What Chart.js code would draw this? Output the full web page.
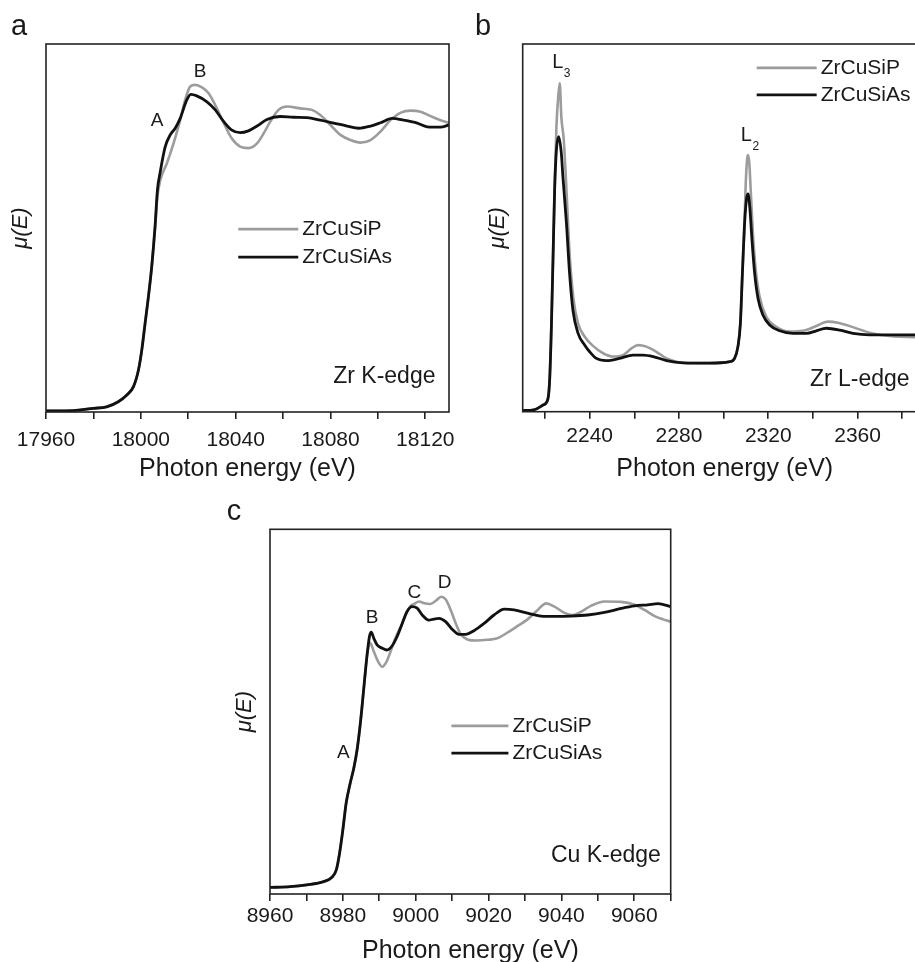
<!DOCTYPE html>
<html>
<head>
<meta charset="utf-8">
<title>XANES spectra ZrCuSiP / ZrCuSiAs</title>
<script src="https://cdn.jsdelivr.net/npm/chart.js@4.4.0/dist/chart.umd.min.js"></script>
<style>
  html, body { margin: 0; padding: 0; background: #fff; overflow: hidden; width: 915px; height: 962px; }
  canvas { position: absolute; }
  #chartA { left: 0; top: 0; }
  #chartB { left: 460px; top: 0; }
  #chartC { left: 220px; top: 490px; }
</style>
</head>
<body>
<canvas id="chartA" width="466" height="484"></canvas>
<canvas id="chartB" width="480" height="484"></canvas>
<canvas id="chartC" width="470" height="478"></canvas>
<script>
// Data (normalised mu(E), 0 = frame bottom, 1 = frame top)

// (a) Zr K-edge
const zrKTickLabels = [17960, 18000, 18040, 18080, 18120]
const zrKEnergyP = [17960, 17971.5, 17980, 17985.6, 17990.5, 17994.1, 17996.9, 17999, 18000.4, 18001.8, 18003.2, 18004.6, 18006, 18007, 18008.2, 18011, 18013.8, 18016.6, 18018.7, 18020.8, 18022.9, 18025.8, 18028.6, 18031.4, 18035, 18038.4, 18041.9, 18045.4, 18049, 18051.8, 18054.6, 18058.1, 18061.7, 18067.3, 18072.2, 18075.7, 18080, 18084.2, 18088.4, 18092.6, 18096.9, 18101.1, 18105.3, 18109.5, 18113.8, 18118, 18122.2, 18126.4, 18130]
const zrKMuP = [0.003, 0.004, 0.010, 0.014, 0.028, 0.046, 0.069, 0.114, 0.168, 0.241, 0.313, 0.395, 0.500, 0.585, 0.630, 0.676, 0.730, 0.793, 0.848, 0.884, 0.889, 0.882, 0.866, 0.834, 0.785, 0.743, 0.721, 0.717, 0.730, 0.757, 0.789, 0.821, 0.830, 0.825, 0.821, 0.807, 0.780, 0.753, 0.739, 0.732, 0.739, 0.762, 0.793, 0.813, 0.819, 0.816, 0.804, 0.793, 0.786]
const zrKEnergyAs = [17960, 17971.5, 17980, 17985.6, 17990.5, 17994.1, 17996.9, 17999, 18000.4, 18001.8, 18003.2, 18004.6, 18006, 18007, 18008.2, 18010.3, 18012.4, 18014.5, 18016.6, 18019.4, 18021.1, 18023.6, 18027.9, 18031.4, 18035, 18038.4, 18041.9, 18045.4, 18049, 18053.2, 18058.8, 18064.5, 18070.1, 18075.7, 18081.4, 18087, 18091.9, 18096.9, 18101.1, 18106, 18110.9, 18116.6, 18120.8, 18126.4, 18130]
const zrKMuAs = [0.003, 0.004, 0.010, 0.014, 0.028, 0.046, 0.069, 0.114, 0.168, 0.241, 0.313, 0.395, 0.504, 0.603, 0.653, 0.721, 0.753, 0.771, 0.798, 0.848, 0.863, 0.859, 0.843, 0.821, 0.789, 0.766, 0.759, 0.764, 0.777, 0.795, 0.803, 0.801, 0.800, 0.793, 0.785, 0.777, 0.771, 0.777, 0.786, 0.798, 0.793, 0.785, 0.775, 0.774, 0.780]

// (b) Zr L-edge
const zrLTickLabels = [2240, 2280, 2320, 2360]
const zrLEnergyP = [2210, 2215, 2219.1, 2221.3, 2222.1, 2222.8, 2223.6, 2224.3, 2225.1, 2226.1, 2226.6, 2227.3, 2228.4, 2229.6, 2231, 2232.8, 2234.8, 2237.8, 2241.5, 2246, 2250.4, 2254.9, 2258.7, 2261.6, 2265.4, 2269.9, 2274.4, 2278.8, 2281.8, 2293.7, 2302.7, 2304.9, 2306.4, 2307.5, 2308.4, 2309.3, 2309.9, 2310.5, 2310.9, 2311.5, 2312.2, 2313.1, 2314.4, 2316.1, 2319.1, 2323.6, 2329.6, 2335.5, 2341.5, 2346.7, 2351.2, 2357.9, 2365.4, 2374.4, 2391]
const zrLMuP = [0.003, 0.005, 0.018, 0.035, 0.090, 0.220, 0.422, 0.603, 0.775, 0.870, 0.893, 0.802, 0.739, 0.603, 0.431, 0.304, 0.240, 0.204, 0.179, 0.159, 0.150, 0.154, 0.172, 0.181, 0.177, 0.163, 0.145, 0.136, 0.133, 0.132, 0.136, 0.145, 0.177, 0.240, 0.376, 0.503, 0.621, 0.685, 0.698, 0.676, 0.594, 0.485, 0.385, 0.313, 0.258, 0.231, 0.218, 0.220, 0.233, 0.245, 0.242, 0.230, 0.215, 0.206, 0.202]
const zrLEnergyAs = [2210, 2215, 2219.1, 2221.3, 2222.1, 2222.8, 2223.6, 2224.3, 2225.1, 2226.1, 2227.3, 2228.0, 2229.6, 2231.0, 2232.5, 2234.8, 2237.8, 2240, 2243, 2247.5, 2253.4, 2259.4, 2263.9, 2268.4, 2274.4, 2281.8, 2293.7, 2302.7, 2304.9, 2306.4, 2307.5, 2308.4, 2309.3, 2310.2, 2310.9, 2311.7, 2312.7, 2313.9, 2315.4, 2317.6, 2320.6, 2325.1, 2331, 2337.1, 2341.5, 2346, 2352, 2357.9, 2365.4, 2391]
const zrLMuAs = [0.003, 0.005, 0.018, 0.035, 0.090, 0.220, 0.422, 0.603, 0.712, 0.748, 0.703, 0.640, 0.512, 0.376, 0.276, 0.213, 0.181, 0.163, 0.145, 0.139, 0.145, 0.154, 0.154, 0.150, 0.139, 0.133, 0.132, 0.136, 0.145, 0.177, 0.240, 0.376, 0.503, 0.576, 0.592, 0.558, 0.467, 0.376, 0.308, 0.263, 0.236, 0.220, 0.213, 0.213, 0.220, 0.227, 0.222, 0.213, 0.209, 0.209]

// (c) Cu K-edge
const cuKTickLabels = [8960, 8980, 9000, 9020, 9040, 9060]
const cuKEnergyP = [8960, 8965.5, 8970.1, 8974.7, 8977, 8978.2, 8979.1, 8980, 8980.9, 8982, 8983, 8983.9, 8984.8, 8985.7, 8986.6, 8987.1, 8987.5, 8988.5, 8989.7, 8990.8, 8992, 8993.1, 8994.4, 8996.3, 8997.6, 8998.6, 8999.5, 9000.9, 9002.4, 9003.9, 9005.5, 9007, 9008.2, 9009.6, 9011, 9012.3, 9014.2, 9016.5, 9019.7, 9022.4, 9025.2, 9028, 9030.7, 9033.5, 9035.8, 9038.1, 9040.8, 9043.1, 9045.4, 9048.1, 9051.8, 9056.4, 9060.1, 9062.8, 9065.6, 9067.9, 9070]
const cuKMuP = [0.018, 0.020, 0.025, 0.034, 0.046, 0.066, 0.112, 0.176, 0.249, 0.303, 0.345, 0.395, 0.468, 0.559, 0.651, 0.680, 0.688, 0.665, 0.637, 0.623, 0.637, 0.665, 0.701, 0.742, 0.774, 0.790, 0.795, 0.802, 0.797, 0.795, 0.804, 0.815, 0.808, 0.779, 0.742, 0.713, 0.698, 0.695, 0.697, 0.701, 0.717, 0.735, 0.753, 0.779, 0.797, 0.788, 0.771, 0.765, 0.774, 0.790, 0.802, 0.801, 0.793, 0.779, 0.762, 0.753, 0.747]
const cuKEnergyAs = [8960, 8965.5, 8970.1, 8974.7, 8977, 8978.2, 8979.1, 8980, 8980.9, 8982, 8983, 8983.9, 8984.8, 8985.7, 8986.6, 8987.3, 8987.8, 8988.5, 8989.4, 8990.8, 8992.1, 8993.5, 8994.9, 8996.3, 8997.6, 8999, 9000.4, 9001.8, 9003.6, 9005, 9006.4, 9008.2, 9010, 9011.9, 9013.7, 9016, 9018.8, 9021.5, 9024.3, 9027, 9030.7, 9034.4, 9038.1, 9042.6, 9047.2, 9051.8, 9056.4, 9060.1, 9063.7, 9066.5, 9070]
const cuKMuAs = [0.018, 0.020, 0.025, 0.034, 0.046, 0.066, 0.112, 0.176, 0.249, 0.303, 0.345, 0.395, 0.468, 0.559, 0.651, 0.706, 0.718, 0.701, 0.683, 0.674, 0.669, 0.680, 0.706, 0.742, 0.774, 0.788, 0.784, 0.765, 0.751, 0.754, 0.756, 0.747, 0.726, 0.712, 0.712, 0.722, 0.742, 0.765, 0.781, 0.779, 0.770, 0.762, 0.761, 0.762, 0.765, 0.772, 0.783, 0.790, 0.793, 0.796, 0.788]

const FONT = '"Liberation Sans", Arial, Helvetica, sans-serif'
const INK = '#1a1a1a'
const GREY = '#9c9c9c'
const BLACK = '#111111'

Chart.defaults.font.family = FONT
Chart.defaults.color = INK

const toPoints = (xs, ys) => xs.map((v, i) => ({ x: v, y: ys[i] }))

// Frame, panel letter, peak labels and line legend
const panelDecor = {
  id: 'panelDecor',
  afterDraw(chart, args, opts) {
    const { ctx, chartArea: a, scales: { x, y } } = chart
    ctx.save()
    ctx.strokeStyle = '#222'
    ctx.lineWidth = 1.6
    ctx.strokeRect(a.left, a.top, a.right - a.left, a.bottom - a.top)

    ctx.fillStyle = INK
    if (opts.letter) {
      ctx.font = `29px ${FONT}`
      ctx.textAlign = 'left'
      ctx.textBaseline = 'alphabetic'
      ctx.fillText(opts.letter.text, a.left + opts.letter.dx, a.top + opts.letter.dy)
    }

    ;(opts.notes || []).forEach((n) => {
      const px = x.getPixelForValue(n.x)
      const py = y.getPixelForValue(n.y)
      ctx.font = `${n.size}px ${FONT}`
      ctx.textAlign = n.align || 'center'
      ctx.textBaseline = 'middle'
      ctx.fillText(n.text, px, py)
      if (n.sub) {
        const w = ctx.measureText(n.text).width
        ctx.font = `${Math.round(n.size * 0.62)}px ${FONT}`
        ctx.textAlign = 'left'
        ctx.textBaseline = 'alphabetic'
        ctx.fillText(n.sub, px + w / 2 + 0.5, py + n.size * 0.36 + 7)
      }
    })

    if (opts.key) {
      const k = opts.key
      const x0 = x.getPixelForValue(k.x)
      const y0 = y.getPixelForValue(k.y)
      chart.data.datasets.forEach((ds, i) => {
        const ly = y0 + i * k.gap
        ctx.strokeStyle = ds.borderColor
        ctx.lineWidth = ds.borderWidth
        ctx.beginPath()
        ctx.moveTo(x0, ly)
        ctx.lineTo(x0 + k.len, ly)
        ctx.stroke()
        ctx.fillStyle = INK
        ctx.font = `${k.size}px ${FONT}`
        ctx.textAlign = 'left'
        ctx.textBaseline = 'middle'
        ctx.fillText(ds.label, x0 + k.len + 4, ly)
      })
    }
    ctx.restore()
  },
}

function buildPanel(canvasId, p) {
  return new Chart(document.getElementById(canvasId), {
    type: 'line',
    data: {
      datasets: [
        { label: 'ZrCuSiP', data: toPoints(p.eP, p.muP), borderColor: GREY, borderWidth: 2.6, order: 1 },
        { label: 'ZrCuSiAs', data: toPoints(p.eAs, p.muAs), borderColor: BLACK, borderWidth: 2.8, order: 0 },
      ],
    },
    options: {
      responsive: false,
      animation: false,
      elements: {
        point: { radius: 0 },
        line: { cubicInterpolationMode: 'monotone', tension: 0 },
      },
      layout: { autoPadding: false, padding: p.pad },
      plugins: {
        legend: { display: false },
        tooltip: { enabled: false },
        panelDecor: p.decor,
      },
      scales: {
        x: {
          type: 'linear',
          min: p.xMin,
          max: p.xMax,
          afterFit: (s) => { s.height = p.xAxisHeight },
          border: { display: false },
          grid: { drawOnChartArea: false, drawTicks: true, tickLength: 7, color: '#222', lineWidth: 1.6 },
          ticks: {
            stepSize: p.step,
            includeBounds: false,
            autoSkip: false,
            maxRotation: 0,
            minRotation: 0,
            padding: p.tickPad,
            color: INK,
            font: { size: 21 },
            callback: (v) => (p.labels.includes(v) ? String(v) : ''),
          },
          title: {
            display: true,
            text: 'Photon energy (eV)',
            color: INK,
            font: { size: 25 },
            padding: { top: 0, bottom: p.titlePad },
          },
        },
        y: {
          min: 0,
          max: 1,
          afterFit: (s) => { s.width = 40 },
          border: { display: false },
          grid: { display: false },
          ticks: { display: false },
          title: {
            display: true,
            text: 'μ(E)',
            color: INK,
            font: { size: 22, style: 'italic' },
            padding: { top: 2, bottom: 0 },
          },
        },
      },
    },
    plugins: [panelDecor],
  })
}

document.addEventListener('DOMContentLoaded', () => {
  buildPanel('chartA', {
    eP: zrKEnergyP, muP: zrKMuP, eAs: zrKEnergyAs, muAs: zrKMuAs,
    xMin: 17960, xMax: 18130, step: 20, labels: zrKTickLabels,
    pad: { left: 6, right: 17, top: 44, bottom: 0 }, xAxisHeight: 72, tickPad: 9, titlePad: 0,
    decor: {
      letter: { text: 'a', dx: -35, dy: -9 },
      notes: [
        { text: 'B', x: 18025, y: 0.925, size: 19 },
        { text: 'A', x: 18006.9, y: 0.792, size: 19 },
        { text: 'Zr K-edge', x: 18124.3, y: 0.096, size: 23, align: 'right' },
      ],
      key: { x: 18041.1, y: 0.497, len: 60, gap: 28, size: 21 },
    },
  })

  buildPanel('chartB', {
    eP: zrLEnergyP, muP: zrLMuP, eAs: zrLEnergyAs, muAs: zrLMuAs,
    xMin: 2210, xMax: 2391, step: 20, labels: zrLTickLabels,
    pad: { left: 22.7, right: 13.2, top: 44, bottom: 0 }, xAxisHeight: 72.3, tickPad: 4.5, titlePad: 0,
    decor: {
      letter: { text: 'b', dx: -47.7, dy: -9 },
      notes: [
        { text: 'L', sub: '3', x: 2225.7, y: 0.950, size: 20 },
        { text: 'L', sub: '2', x: 2310.2, y: 0.751, size: 20 },
        { text: 'Zr L-edge', x: 2383.3, y: 0.086, size: 23, align: 'right' },
      ],
      key: { x: 2314.8, y: 0.935, len: 60, gap: 27, size: 21 },
    },
  })

  buildPanel('chartC', {
    eP: cuKEnergyP, muP: cuKMuP, eAs: cuKEnergyAs, muAs: cuKMuAs,
    xMin: 8960, xMax: 9070, step: 10, labels: cuKTickLabels,
    pad: { left: 10, right: 19.3, top: 39.3, bottom: 0 }, xAxisHeight: 74, tickPad: 3, titlePad: 2,
    decor: {
      letter: { text: 'c', dx: -43.3, dy: -9.3 },
      notes: [
        { text: 'B', x: 8988.0, y: 0.758, size: 19 },
        { text: 'C', x: 8999.6, y: 0.827, size: 19 },
        { text: 'D', x: 9007.9, y: 0.853, size: 19 },
        { text: 'A', x: 8980.1, y: 0.386, size: 19 },
        { text: 'Cu K-edge', x: 9067.3, y: 0.105, size: 23, align: 'right' },
      ],
      key: { x: 9009.8, y: 0.461, len: 57, gap: 27.3, size: 21 },
    },
  })
})
</script>
</body>
</html>
